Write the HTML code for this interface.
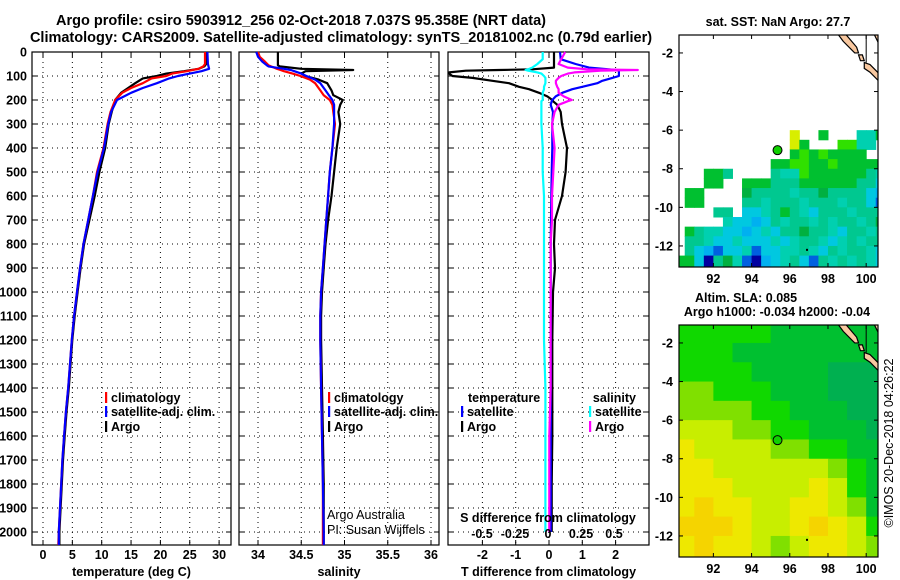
<!DOCTYPE html>
<html><head><meta charset="utf-8"><title>Argo profile</title>
<style>
html,body{margin:0;padding:0;background:#fff;}
svg{display:block;font-family:"Liberation Sans",Arial,sans-serif;}
.b{font-weight:bold;font-size:12.5px;}
.t{font-weight:bold;font-size:14.5px;}
.n{font-size:12.5px;}
</style></head>
<body>
<svg id="fig" width="900" height="580" viewBox="0 0 900 580" xmlns="http://www.w3.org/2000/svg">
<text class="t" x="301" y="25" text-anchor="middle">Argo profile: csiro 5903912_256 02-Oct-2018 7.037S 95.358E (NRT data)</text>
<text class="t" x="341" y="42" text-anchor="middle">Climatology: CARS2009. Satellite-adjusted climatology: synTS_20181002.nc (0.79d earlier)</text>
<g id="content"></g>
</svg>
<script>
// ---- profile data ----
const depthT = [0,50,60,70,80,90,100,110,130,150,170,200,250,300,400,500,600,700,800,900,1000,1100,1200,1400,1500,1600,1700,1800,1900,2000,2054];
const tempClim = [27.6,27.6,27.3,26.5,24.5,22,21,18.5,17,15,13.5,12.3,11.5,11,10.3,9.2,8.5,7.7,6.9,6.3,5.8,5.3,4.9,4.3,3.9,3.6,3.3,3.1,2.9,2.7,2.6];
const tempSat = [28.0,28.1,28.2,28.3,27,25,23,21.5,19.4,17,15,12.6,11.6,11.1,10.4,9.3,8.5,7.7,6.9,6.3,5.8,5.3,4.9,4.3,3.9,3.6,3.3,3.1,2.9,2.7,2.7];
const tempArgo = [27.9,27.8,27.5,26.5,24,21,19.4,17,15.7,14.5,13.3,12.3,11.7,11.2,10.6,9.6,8.8,7.9,7.0,6.4,5.9,5.4,5.0,4.4,4.0,3.7,3.4,3.2,3.0,2.8,2.8];
const depthS = [0,20,40,55,60,70,75,80,90,100,115,130,160,180,200,220,250,300,400,500,600,700,800,900,1000,1100,1200,1400,1600,1800,2000,2054];
const salClim = [34.0,34.02,34.08,34.12,34.15,34.22,34.26,34.3,34.4,34.49,34.6,34.66,34.72,34.76,34.83,34.86,34.87,34.89,34.86,34.83,34.81,34.79,34.77,34.75,34.73,34.72,34.72,34.73,34.74,34.75,34.75,34.75];
const salSat = [33.98,34.0,34.05,34.1,34.12,34.3,34.38,34.42,34.5,34.56,34.66,34.72,34.78,34.82,34.86,34.88,34.88,34.88,34.86,34.83,34.81,34.79,34.77,34.75,34.73,34.72,34.72,34.73,34.74,34.75,34.76,34.76];
const salArgo = [34.23,34.23,34.23,34.23,34.25,34.5,35.1,34.55,34.5,34.55,34.7,34.8,34.85,34.87,34.98,34.95,34.93,34.95,34.91,34.88,34.85,34.81,34.78,34.76,34.74,34.73,34.73,34.74,34.75,34.76,34.76,34.76];
const depthD = [0,30,50,65,72,75,78,85,90,100,108,120,130,145,155,170,185,200,205,220,250,300,400,500,600,700,800,900,1000,1200,1400,1600,1800,2000];
const tDiffArgo = [0.15,0.15,0.15,0.15,-0.5,-1.5,-2.5,-3.0,-3.0,-2.9,-2.3,-1.7,-1.2,-0.9,-0.6,-0.3,-0.05,0.1,0.12,0.25,0.35,0.39,0.54,0.5,0.39,0.18,0.15,0.18,0.12,0.1,0.1,0.1,0.08,0.08];
const tDiffSat = [0.33,0.35,0.8,1.2,1.8,2.0,2.1,2.1,2.1,2.1,1.9,1.6,1.45,1.0,0.7,0.4,0.2,0.1,0.08,0.05,0.12,0.1,0.1,0.08,0.07,0.06,0.05,0.05,0.05,0.05,0.05,0.05,0.05,0.05];
const sDiffSat = [-0.04,-0.04,-0.08,-0.12,-0.15,-0.17,-0.15,-0.08,-0.05,-0.03,-0.02,-0.02,-0.02,-0.03,-0.03,-0.04,-0.04,-0.04,-0.05,-0.05,-0.05,-0.05,-0.04,-0.04,-0.03,-0.03,-0.03,-0.03,-0.03,-0.03,-0.02,-0.02,-0.02,-0.02];
const sDiffArgo = [0.13,0.1,0.08,0.15,0.3,0.68,0.4,0.2,0.15,0.1,0.08,0.06,0.06,0.07,0.08,0.08,0.12,0.18,0.15,0.08,0.05,0.03,0.05,0.04,0.03,0.03,0.02,0.02,0.02,0.02,0.02,0.01,0.01,0.01];
const depthTicks = [0,100,200,300,400,500,600,700,800,900,1000,1100,1200,1300,1400,1500,1600,1700,1800,1900,2000];
const tempTicks = [0,5,10,15,20,25,30];
const salTicks = [34,34.5,35,35.5,36];
const tDiffTicks = [-2,-1,0,1,2];
const sDiffTicks = [-0.5,-0.25,0,0.25,0.5];
const sDiffTickLabels = ["-0.5","-0.25","0","0.25","0.5"];
// ---- map data ----
const mapLatTicks = [-2,-4,-6,-8,-10,-12];
const mapLonTicks = [92,94,96,98,100];
const argoLon = 95.358, argoLat = -7.037;
const sstRows = [
"......................","......................","......................","......................","......................",
"......................","......................","......................","......................","......................",
"............a..c...ffc","............ac...bbff.","............cbcbcccc..","..........ccbbccbccccc",
"...cce....effbccccccef","...cc..ccceeecccccceeg",".cc....deeeefeedeeeegh",".cc....eefeeefeeefeegi",
"....ee.ggfecefgeeefeee",".....fgghgefeefefeefed",".ceffgghgfgeedeefgeefe",".eefggfgggfgfeefgfefee",
".eghiggfiggffefgefeefg","ccgjedfijhgfegiefefefg"];
const sstColors = {a:"#d8ee00",b:"#30e000",c:"#00c030",d:"#00b040",e:"#00c890",f:"#00d0b0",g:"#00c8e0",h:"#00b0f0",i:"#0060e0",j:"#0000a0"};
const slaRows = [
[2,2,2,2,2,1,1,1,1,1,1],[2,2,2,1,1,1,1,1,1,1,1],[2,2,2,2,1,1,1,1,0,0,0],[3,3,2,2,2,1,1,1,0,0,0],
[3,3,3,3,2,2,1,1,1,0,0],[4,4,4,3,3,2,2,1,1,1,0],[5,4,4,4,4,3,3,2,2,1,1],[5,5,4,4,4,4,4,4,3,2,1],
[5,5,5,4,4,4,4,5,4,2,1],[5,6,5,5,4,4,5,5,4,3,1],[6,6,6,5,4,4,5,6,5,4,2],[5,6,5,5,4,3,4,5,5,4,3]];
const slaColors = ["#00b050","#00c030","#10d800","#80e000","#c8ee00","#eee800","#f5d400"];

const NS="http://www.w3.org/2000/svg";
const root=document.getElementById('content');
function mk(tag,attrs,parent){const e=document.createElementNS(NS,tag);for(const k in attrs)e.setAttribute(k,attrs[k]);(parent||root).appendChild(e);return e;}
function txt(str,x,y,cls,anchor,parent){const e=mk('text',{x:x,y:y,'class':cls,'text-anchor':anchor||'start'},parent);e.textContent=str;return e;}

const Y0=52, PXD=0.24, YB=545;
function yD(d){return Y0+d*PXD;}
function xT(v){return 43+v*5.87;}
function xS(v){return 258+(v-34)*86.5;}
function xTD(v){return 549+v*33.3;}
function xSD(v){return 548+v*132;}
const panels=[{l:32,r:231,f:xT,ticks:tempTicks,labs:tempTicks.map(String),title:"temperature (deg C)",name:"temperature"},
{l:239,r:439,f:xS,ticks:salTicks,labs:salTicks.map(String),title:"salinity",name:"salinity"},
{l:448,r:649,f:xTD,ticks:tDiffTicks,labs:tDiffTicks.map(String),title:"T difference from climatology",name:"difference"}];

panels.forEach((p,pi)=>{
  const g=mk('g',{});
  
  
  depthTicks.forEach(d=>{
    const y=yD(d);
    mk('line',{x1:p.l,x2:p.r,y1:y,y2:y,stroke:'#000','stroke-width':1,'stroke-dasharray':'1,4'},g);
    mk('line',{x1:p.l,x2:p.l+5,y1:y,y2:y,stroke:'#000'},g);
    mk('line',{x1:p.r-5,x2:p.r,y1:y,y2:y,stroke:'#000'},g);
  });
  p.ticks.forEach((v,i)=>{
    const x=p.f(v);
    mk('line',{x1:x,x2:x,y1:Y0,y2:YB,stroke:'#000','stroke-dasharray':'1,4'},g);
    mk('line',{x1:x,x2:x,y1:YB-5,y2:YB,stroke:'#000'},g);
    mk('line',{x1:x,x2:x,y1:Y0,y2:Y0+5,stroke:'#000'},g);
    const t=txt(p.labs[i],x,559,'b','middle',g);
    
    
  });
  const tt=txt(p.title,(p.l+p.r)/2,576,'b','middle',g);
  
  
  mk('rect',{x:p.l,y:Y0,width:p.r-p.l,height:YB-Y0,fill:'none',stroke:'#000','stroke-width':1.2},g);
});
depthTicks.forEach(d=>{
  const t=txt(String(d),27,yD(d)+4.5,'b','end');
  
  
});

function line(depths,vals,f,color,name,w){
  const pts=depths.map((d,i)=>f(vals[i]).toFixed(1)+','+yD(d).toFixed(1)).join(' ');
  const e=mk('polyline',{points:pts,fill:'none',stroke:color,'stroke-width':w||2.2,'stroke-linejoin':'round'});
  
  
}
line(depthT,tempArgo,xT,'#000','temp-argo-line');
line(depthT,tempClim,xT,'#f00','temp-climatology-line');
line(depthT,tempSat,xT,'#00f','temp-satellite-line');
line(depthS,salArgo,xS,'#000','sal-argo-line');
line(depthS,salClim,xS,'#f00','sal-climatology-line');
line(depthS,salSat,xS,'#00f','sal-satellite-line');
line(depthD,tDiffArgo,xTD,'#000','tdiff-argo-line');
line(depthD,tDiffSat,xTD,'#00f','tdiff-satellite-line');
line(depthD,sDiffArgo,xSD,'#f0f','sdiff-argo-line');
line(depthD,sDiffSat,xSD,'#0ff','sdiff-satellite-line');

sDiffTicks.forEach((v,i)=>{
  const t=txt(sDiffTickLabels[i],xSD(v),538,'b','middle');
  
  
});
const sdt=txt('S difference from climatology',548,522,'b','middle');



function legend(x,y,color,label,name){
  const g=mk('g',{});
  
  
  mk('rect',{x:x,y:y-10,width:2.2,height:11,fill:color},g);
  txt(label,x+6,y,'b','start',g);
}
legend(105,402,'#f00','climatology','legend-climatology');
legend(105,416,'#00f','satellite-adj. clim.','legend-satellite');
legend(105,431,'#000','Argo','legend-argo');
legend(328,402,'#f00','climatology','legend-sal-climatology');
legend(328,416,'#00f','satellite-adj. clim.','legend-sal-satellite');
legend(328,431,'#000','Argo','legend-sal-argo');
const lt=txt('temperature',468,402,'b','start');


const ls=txt('salinity',636,402,'b','end');


legend(461,416,'#00f','satellite','legend-t-satellite');
legend(461,431,'#000','Argo','legend-t-argo');
legend(589,416,'#0ff','satellite','legend-s-satellite');
legend(589,431,'#f0f','Argo','legend-s-argo');
const a1=txt('Argo Australia',327,519,'n','start');


const a2=txt('PI: Susan Wijffels',327,534,'n','start');



const ML=679, MR=878, LON0=90.2, PXLON=19.1, LAT0=-1.07, PXLAT=19.3;
function mx(lon){return ML+(lon-LON0)*PXLON;}
function my(lat,top){return top+(LAT0-lat)*PXLAT;}
function drawMap(top,bottom,name,cells){
  const g=mk('g',{});
  
  
  const cid='clip'+top;
  const cp=mk('clipPath',{id:cid},g);
  mk('rect',{x:ML,y:top,width:MR-ML,height:bottom-top},cp);
  const cg=mk('g',{'clip-path':'url(#'+cid+')'},g);
  cells(cg,top);
  const land=mk('path',{d:`M${mx(98.5)},${my(-1.0,top)} L${mx(98.9)},${my(-1.0,top)} L${mx(99.5)},${my(-1.7,top)} L${mx(99.6)},${my(-2.0,top)} L${mx(99.4)},${my(-2.0,top)} L${mx(98.8)},${my(-1.4,top)} Z M${mx(99.6)},${my(-2.1,top)} L${mx(99.8)},${my(-2.1,top)} L${mx(99.9)},${my(-2.4,top)} L${mx(99.7)},${my(-2.4,top)} Z M${mx(99.9)},${my(-2.5,top)} L${mx(100.2)},${my(-2.6,top)} L${mx(100.7)},${my(-3.1,top)} L${mx(100.7)},${my(-3.5,top)} L${mx(100.2)},${my(-3.0,top)} L${mx(99.9)},${my(-2.8,top)} Z M${mx(100.4)},${my(-1.0,top)} L${mx(100.7)},${my(-1.0,top)} L${mx(100.7)},${my(-1.6,top)} Z`,fill:'#f8c8a0',stroke:'#000','stroke-width':1.2},cg);
  
  
  mk('line',{x1:mx(100),x2:mx(100),y1:top,y2:my(-2.5,top),stroke:'#000'},cg);
  mk('rect',{x:mx(96.85),y:my(-12.15,top),width:2,height:2,fill:'#000'},cg);
  const dot=mk('circle',{cx:mx(argoLon),cy:my(argoLat,top),r:4.5,fill:'#10d000',stroke:'#000','stroke-width':1},g);
  
  
  mk('rect',{x:ML,y:top,width:MR-ML,height:bottom-top,fill:'none',stroke:'#000','stroke-width':1.2},g);
  mapLatTicks.forEach(l=>{const y=my(l,top);
    mk('line',{x1:ML,x2:ML+4,y1:y,y2:y,stroke:'#000'},g);mk('line',{x1:MR-4,x2:MR,y1:y,y2:y,stroke:'#000'},g);
    const t=txt(String(l),673,y+4.5,'b','end',g);
    
    });
  mapLonTicks.forEach(l=>{const x=mx(l);
    mk('line',{x1:x,x2:x,y1:bottom-4,y2:bottom,stroke:'#000'},g);mk('line',{x1:x,x2:x,y1:top,y2:top+4,stroke:'#000'},g);
    const t=txt(String(l),x,bottom+16,'b','middle',g);
    
    });
}
drawMap(35,267,'sst-map',(cg,top)=>{
  sstRows.forEach((row,r)=>{for(let c=0;c<row.length;c++){const ch=row[c];if(ch==='.')continue;
    const lon=90+0.5*c, lat=-1-0.5*r, h=(r===sstRows.length-1)?0.7:0.5;
    const e=mk('rect',{x:mx(lon),y:my(lat,top),width:0.5*PXLON+0.5,height:h*PXLAT+0.5,fill:sstColors[ch]},cg);
    
    }});
});
drawMap(325,557,'sla-map',(cg,top)=>{
  slaRows.forEach((row,r)=>{row.forEach((v,c)=>{
    const lon=90+c, lat=-1-r, h=(r===slaRows.length-1)?1.2:1;
    const e=mk('rect',{x:mx(lon),y:my(lat,top),width:PXLON+0.5,height:h*PXLAT+0.5,fill:slaColors[v]},cg);
    
    });});
});
const m1=txt('sat. SST: NaN Argo: 27.7',778,26,'b','middle');


const m2=txt('Altim. SLA: 0.085',746,302,'b','middle');


const m3=txt('Argo h1000: -0.034 h2000: -0.04',777,316,'b','middle');


const cr=txt('©IMOS 20-Dec-2018 04:26:22',0,0,'n','middle');
cr.setAttribute('transform','translate(893,443) rotate(-90)');


</script>
</body></html>
